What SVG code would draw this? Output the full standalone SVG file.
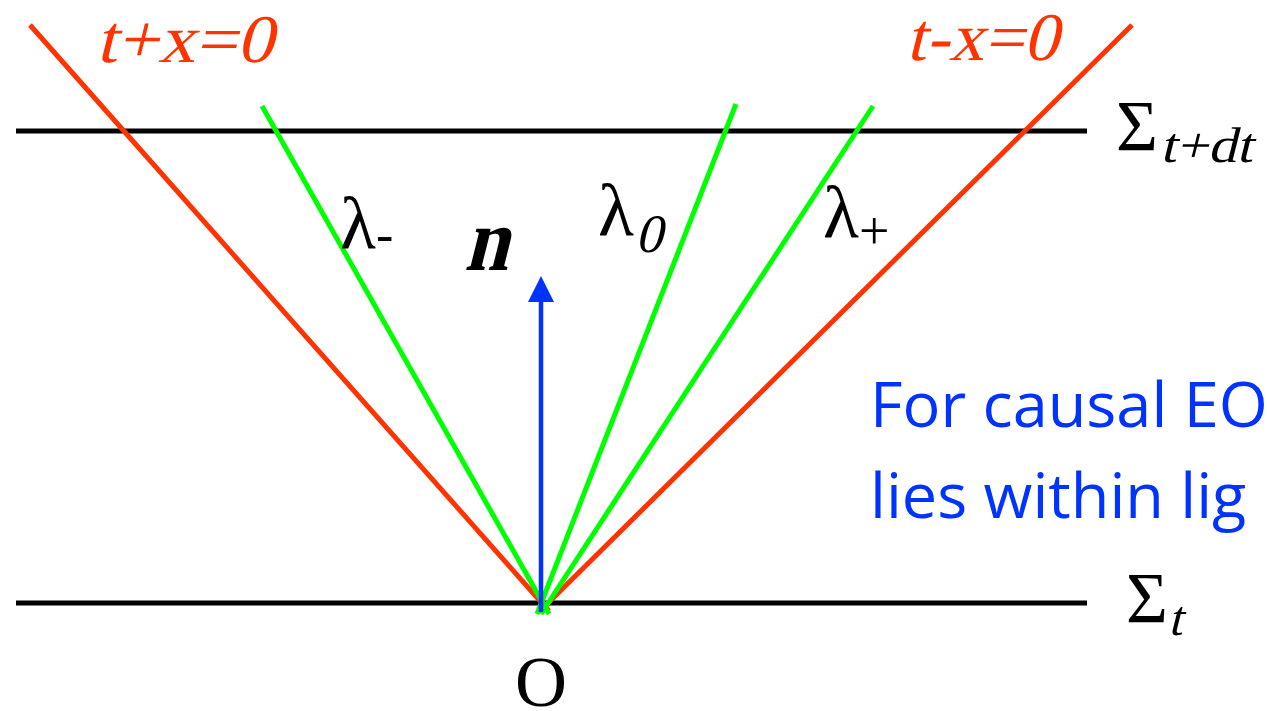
<svg xmlns="http://www.w3.org/2000/svg" width="1267" height="711" viewBox="0 0 1267 711">
<style>
.rm{font-family:'Liberation Serif','Times New Roman',serif;fill:#000}
.red{fill:#FF3300}
.blk{stroke:#000;stroke-width:5;fill:none}
.lc{stroke:#FF3300;stroke-width:5;fill:none}
.gr{stroke:#00FF00;stroke-width:5;fill:none}
.note{font-family:'Open Sans','Noto Sans',sans-serif;font-size:63px;fill:#0033FF}
</style>
<g id="surfaces">
<line class="blk" x1="16" y1="131" x2="1087" y2="131"/>
<line class="blk" x1="16" y1="603" x2="1087" y2="603"/>
</g>
<g id="connectors">
<line class="lc" x1="30" y1="25" x2="549" y2="611"/>
<line class="lc" x1="1132" y1="25" x2="540" y2="611"/>
<line class="gr" x1="262" y1="106" x2="549" y2="614"/>
<line class="gr" x1="736" y1="104" x2="537" y2="614"/>
<line class="gr" x1="873" y1="106" x2="541" y2="614"/>
<line x1="541" y1="612" x2="541" y2="300" stroke="#0033FF" stroke-width="4.5"/>
<path d="M528,302 L541,276 L554,302 Z" fill="#0033FF"/>
</g>
<g id="label-tpx">
<text class="rm red" transform="translate(96,62) skewX(-14)" font-size="68" textLength="177" lengthAdjust="spacingAndGlyphs">t+x=0</text>
</g>
<g id="label-tmx">
<text class="rm red" transform="translate(906,60) skewX(-14)" font-size="68" textLength="152" lengthAdjust="spacingAndGlyphs">t-x=0</text>
</g>
<g id="label-sigma-tdt">
<text class="rm" x="1116" y="150" font-size="72">Σ</text>
<text class="rm" transform="translate(1160,162) skewX(-14)" font-size="50" textLength="92" lengthAdjust="spacingAndGlyphs">t+dt</text>
</g>
<g id="label-sigma-t">
<text class="rm" x="1126" y="622" font-size="72">Σ</text>
<text class="rm" transform="translate(1168,635) skewX(-14)" font-size="50">t</text>
</g>
<g id="label-lminus">
<text class="rm" x="340" y="248" font-size="74">λ<tspan font-size="52" dy="4">-</tspan></text>
</g>
<g id="label-l0">
<text class="rm" x="598" y="235" font-size="74">λ</text>
<text class="rm" transform="translate(635,252) skewX(-14)" font-size="54">0</text>
</g>
<g id="label-lplus">
<text class="rm" x="823" y="237" font-size="74">λ<tspan font-size="54" dy="12">+</tspan></text>
</g>
<g id="label-n">
<text class="rm" transform="translate(464,270) skewX(-14)" font-size="90" font-weight="bold" textLength="44" lengthAdjust="spacingAndGlyphs">n</text>
</g>
<g id="label-O">
<text class="rm" x="541" y="706" font-size="72" text-anchor="middle">O</text>
</g>
<g id="note">
<text class="note" x="870" y="427">For causal EO</text>
<text class="note" x="870" y="518">lies within lig</text>
</g>
</svg>
